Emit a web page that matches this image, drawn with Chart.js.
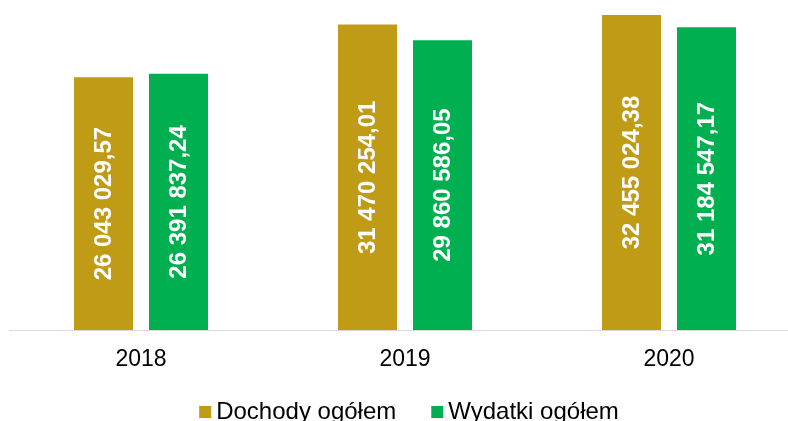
<!DOCTYPE html>
<html>
<head>
<meta charset="utf-8">
<script src="https://cdn.jsdelivr.net/npm/chart.js@4"></script>
<style>
  html, body { margin: 0; padding: 0; background: #fff; overflow: hidden; }
  #wrap { width: 810px; height: 421px; position: relative; }
</style>
</head>
<body>
<div id="wrap"><canvas id="bar-chart"></canvas></div>
<script>
const years = ["2018", "2019", "2020"];
const dochody = [26043029.57, 31470254.01, 32455024.38];
const wydatki = [26391837.24, 29860586.05, 31184547.17];
const seriesNames = ["Dochody ogółem", "Wydatki ogółem"];
const colors = ['#BF9B16', '#00AF50'];

// 26 043 029,57 style numbers
function fmt(v) {
  const parts = v.toFixed(2).split('.');
  const intPart = parts[0].replace(/\B(?=(\d{3})+(?!\d))/g, ' ');
  return intPart + ',' + parts[1];
}

const font = 'Arial, "Liberation Sans", sans-serif';

const barLabels = {
  id: 'barLabels',
  afterDatasetsDraw(chart) {
    const c = chart.ctx;
    c.save();
    c.fillStyle = '#fff';
    c.font = 'bold 24px ' + font;
    c.textAlign = 'center';
    c.textBaseline = 'middle';
    chart.data.datasets.forEach((ds, i) => {
      chart.getDatasetMeta(i).data.forEach((el, j) => {
        const cy = (el.y + el.base) / 2;
        c.save();
        c.translate(el.x, cy);
        c.rotate(-Math.PI / 2);
        c.fillText(fmt(ds.data[j]), 0, 1);
        c.restore();
      });
    });
    c.restore();
  }
};

// legend drawn by hand so the box/text spacing matches
const bottomLegend = {
  id: 'bottomLegend',
  afterDraw(chart) {
    const c = chart.ctx;
    c.save();
    c.font = '24px ' + font;
    c.textBaseline = 'alphabetic';
    const box = 12, gap = 5, itemGap = 35;
    const widths = chart.data.datasets.map(ds => c.measureText(ds.label).width);
    let total = 0;
    widths.forEach((w, i) => { total += box + gap + w + (i ? itemGap : 0); });
    let x = 409 - total / 2;
    chart.data.datasets.forEach((ds, i) => {
      c.fillStyle = ds.backgroundColor;
      c.fillRect(x, 406, box, box);
      c.fillStyle = '#000';
      c.fillText(ds.label, x + box + gap, 419);
      x += box + gap + widths[i] + itemGap;
    });
    c.restore();
  }
};

new Chart(document.getElementById('bar-chart'), {
  type: 'bar',
  data: {
    labels: years,
    datasets: [
      { label: seriesNames[0], data: dochody, backgroundColor: colors[0] },
      { label: seriesNames[1], data: wydatki, backgroundColor: colors[1] }
    ]
  },
  options: {
    responsive: true,
    maintainAspectRatio: false,
    animation: false,
    categoryPercentage: 0.568,
    barPercentage: 0.787,
    layout: { padding: { left: 9, right: 9, top: 0, bottom: 0 } },
    plugins: {
      legend: { display: false },
      tooltip: { enabled: false }
    },
    scales: {
      x: {
        grid: { display: false, drawTicks: false },
        border: { display: true, color: '#d9d9d9', width: 1 },
        ticks: { color: '#000', padding: 16, font: { size: 23, family: font } },
        afterFit(scale) { scale.height = 91; }
      },
      y: {
        display: false,
        min: 0,
        max: 34000000
      }
    }
  },
  plugins: [barLabels, bottomLegend]
});
</script>
</body>
</html>
